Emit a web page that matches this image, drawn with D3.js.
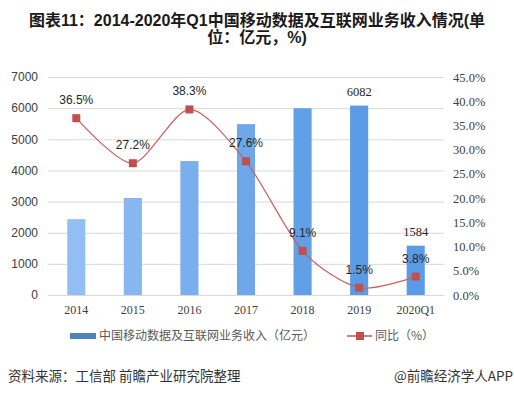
<!DOCTYPE html>
<html>
<head>
<meta charset="utf-8">
<script src="https://cdn.jsdelivr.net/npm/d3@7"></script>
<style>
  body { margin: 0; background: #fff; }
  svg { display: block; }
</style>
</head>
<body>
<svg id="chart" width="514" height="397"></svg>
<script>
// chart data
const categories = ['2014', '2015', '2016', '2017', '2018', '2019', '2020Q1'];
const revenue = [2435, 3115, 4300, 5486, 5997, 6082, 1584];
const growth = [36.5, 27.2, 38.3, 27.6, 9.1, 1.5, 3.8];
const leftTicks = [0, 1000, 2000, 3000, 4000, 5000, 6000, 7000];
const rightTicks = [0, 5, 10, 15, 20, 25, 30, 35, 40, 45];
const barLabelled = ['2019', '2020Q1'];

const svg = d3.select('#chart');
const W = 514, H = 397;
const margin = { top: 77, right: 70, bottom: 102, left: 48 };
const x0 = margin.left, x1 = W - margin.right;
const y0 = H - margin.bottom, y1 = margin.top;

svg.append('rect').attr('width', W).attr('height', H).attr('fill', '#fff');

// title
const title = svg.append('text')
    .attr('text-anchor', 'middle')
    .attr('font-family', 'Liberation Sans, "Noto Sans CJK SC", sans-serif')
    .attr('font-weight', 'bold')
    .attr('font-size', 16)
    .attr('fill', '#1a1a1a');
title.append('tspan').attr('x', W / 2).attr('y', 26).text('图表11：2014-2020年Q1中国移动数据及互联网业务收入情况(单');
title.append('tspan').attr('x', W / 2).attr('y', 43).text('位：亿元，%)');

// scales
const xScale = d3.scaleBand()
    .domain(categories)
    .range([x0, x1])
    .paddingInner(0.68)
    .paddingOuter(0.34);

const yLeft = d3.scaleLinear().domain([0, 7000]).range([y0, y1]);
const yRight = d3.scaleLinear().domain([0, 45]).range([y0, y1]);

// gridlines
svg.append('g')
    .attr('transform', `translate(${x0},0)`)
    .call(d3.axisLeft(yLeft).tickValues(leftTicks).tickSize(-(x1 - x0)).tickFormat(''))
    .call(g => g.select('.domain').remove())
    .call(g => g.selectAll('line').attr('stroke', '#d9d9d9'));

// bars
const barColor = d3.interpolateRgb('#93bef3', '#5b9be6');
svg.append('g').selectAll('rect')
    .data(revenue)
    .join('rect')
    .attr('x', (d, i) => xScale(categories[i]))
    .attr('y', d => yLeft(d))
    .attr('width', xScale.bandwidth())
    .attr('height', d => y0 - yLeft(d))
    .attr('fill', (d, i) => barColor(Math.min(1, i / 4.5)));

// bar value labels
svg.append('g').selectAll('text')
    .data(categories.filter(c => barLabelled.includes(c)))
    .join('text')
    .attr('x', c => xScale(c) + xScale.bandwidth() / 2)
    .attr('y', c => yLeft(revenue[categories.indexOf(c)]) - 10)
    .attr('text-anchor', 'middle')
    .attr('font-family', 'Liberation Serif, serif')
    .attr('font-size', 12.5)
    .attr('fill', '#262626')
    .text(c => revenue[categories.indexOf(c)]);

// left axis
svg.append('g')
    .attr('transform', `translate(${x0 - 8},0)`)
    .call(d3.axisLeft(yLeft).tickValues(leftTicks).tickSize(0).tickPadding(2).tickFormat(d3.format('d')))
    .call(g => g.select('.domain').remove())
    .call(g => g.selectAll('text')
        .attr('font-family', 'Liberation Sans, sans-serif')
        .attr('font-size', 12)
        .attr('fill', '#404040'));

// right axis
svg.append('g')
    .attr('transform', `translate(${x1 + 6},0)`)
    .call(d3.axisRight(yRight).tickValues(rightTicks).tickSize(0).tickPadding(3)
        .tickFormat(d => d.toFixed(1) + '%'))
    .call(g => g.select('.domain').remove())
    .call(g => g.selectAll('text')
        .attr('font-family', 'Liberation Serif, serif')
        .attr('font-size', 12.5)
        .attr('fill', '#404040'));

// x axis
svg.append('g')
    .attr('transform', `translate(0,${y0})`)
    .call(d3.axisBottom(xScale).tickSize(0).tickPadding(10))
    .call(g => g.select('.domain').attr('stroke', '#d9d9d9'))
    .call(g => g.selectAll('text')
        .attr('font-family', 'Liberation Serif, serif')
        .attr('font-size', 12)
        .attr('fill', '#404040'));

// growth line
const cx = c => xScale(c) + xScale.bandwidth() / 2;
const line = d3.line()
    .x((d, i) => cx(categories[i]))
    .y(d => yRight(d))
    .curve(d3.curveCardinal.tension(0.2));

svg.append('path')
    .datum(growth)
    .attr('fill', 'none')
    .attr('stroke', '#c9605c')
    .attr('stroke-width', 1.2)
    .attr('d', line);

svg.append('g').selectAll('rect')
    .data(growth)
    .join('rect')
    .attr('x', (d, i) => cx(categories[i]) - 4)
    .attr('y', d => yRight(d) - 4)
    .attr('width', 8)
    .attr('height', 8)
    .attr('fill', '#c0504d');

svg.append('g').selectAll('text')
    .data(growth)
    .join('text')
    .attr('x', (d, i) => cx(categories[i]))
    .attr('y', d => yRight(d) - 14)
    .attr('text-anchor', 'middle')
    .attr('font-family', 'Liberation Sans, sans-serif')
    .attr('font-size', 12)
    .attr('fill', '#262626')
    .text(d => d.toFixed(1) + '%');

// legend
const legend = svg.append('g')
    .attr('font-family', '"Noto Sans CJK SC", sans-serif')
    .attr('font-size', 12)
    .attr('fill', '#595959');
legend.append('rect').attr('x', 70).attr('y', 333).attr('width', 26).attr('height', 6).attr('fill', '#4f81bd');
legend.append('text').attr('x', 99).attr('y', 340).text('中国移动数据及互联网业务收入（亿元）');
legend.append('line').attr('x1', 347).attr('x2', 372).attr('y1', 336).attr('y2', 336)
    .attr('stroke', '#c0504d').attr('stroke-width', 1.5);
legend.append('rect').attr('x', 356).attr('y', 332).attr('width', 8).attr('height', 8).attr('fill', '#c0504d');
legend.append('text').attr('x', 375).attr('y', 340).text('同比（%）');

// source
const foot = svg.append('g')
    .attr('font-family', '"Noto Sans CJK SC", sans-serif')
    .attr('font-size', 13.5)
    .attr('fill', '#333');
foot.append('text').attr('x', 8).attr('y', 381).text('资料来源：工信部 前瞻产业研究院整理');
foot.append('text').attr('x', 513).attr('y', 381).attr('text-anchor', 'end').text('@前瞻经济学人APP');
</script>
</body>
</html>
